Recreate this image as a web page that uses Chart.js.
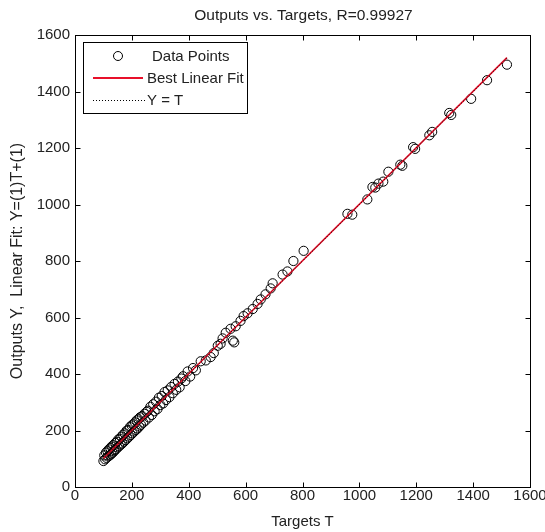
<!DOCTYPE html>
<html><head><meta charset="utf-8">
<script src="https://cdn.jsdelivr.net/npm/chart.js@4.4.0/dist/chart.umd.min.js"></script>
<style>html,body{margin:0;padding:0;background:#fff}#wrap{width:545px;height:532px}</style>
</head><body><div id="wrap"><canvas id="c" width="545" height="532"></canvas></div>
<script>
const titleText = 'Outputs vs. Targets, R=0.99927';
const xTitle = 'Targets T';
const yTitle = 'Outputs Y,  Linear Fit: Y=(1)T+(1)';
const seriesLabels = ['Data Points', 'Best Linear Fit', 'Y = T'];
const tickVals = [0, 200, 400, 600, 800, 1000, 1200, 1400, 1600];

const targets = [100,103,106,109,111,114,117,119,122,124,127,129,132,134,137,139,142,144,147,150,
152,155,158,161,163,166,169,172,175,178,181,184,187,190,193,196,199,202,205,208,
211,214,217,220,223,226,229,232,236,240,244,248,252,256,260,265,270,275,280,285,
290,295,300,305,310,315,320,326,332,338,344,350,356,362,368,374,380,388,396,405,
415,425,442,460,477,488,502,512,519,530,547,555,560,565,582,593,607,625,642,653,670,
688,695,730,747,768,804,958,975,1028,1046,1056,1067,1084,1102,1144,1151,1189,1196,
1246,1256,1316,1323,1393,1449,1519];
const outputs = [92,112,98,122,103,127,108,133,112,138,116,143,121,148,126,131,156,133,160,140,
168,144,171,150,178,154,185,160,190,166,199,172,202,178,212,184,218,190,222,196,
229,202,236,207,240,214,247,220,251,228,259,235,266,270,246,284,255,293,268,302,
276,316,290,322,296,336,308,342,318,354,332,365,344,373,353,384,392,375,409,391,
421,413,445,448,460,474,500,507,526,546,560,518,512,569,588,605,615,630,648,664,682,
703,721,752,763,800,836,967,964,1018,1062,1060,1074,1081,1116,1141,1137,1203,1197,
1245,1257,1324,1317,1374,1440,1495];

const fitX = [100, 1519];
const fitY = [101, 1520];
const idX = [100, 1519];
const idY = [100, 1519];

const FONT = 'Liberation Sans, Arial, sans-serif';
const FS = 15;
const TXT = '#222';

const scatterData = targets.map((t, i) => ({x: t, y: outputs[i]}));
const fitData = fitX.map((t, i) => ({x: t, y: fitY[i]}));
const idData = idX.map((t, i) => ({x: t, y: idY[i]}));

const RED = '#e8102a';

const framePlugin = {
  id: 'frame',
  afterDatasetsDraw(chart) {
    const {ctx, chartArea: a, scales: {x, y}} = chart;
    ctx.save();
    ctx.strokeStyle = '#000';
    ctx.lineWidth = 1;
    const L = Math.round(a.left) + 0.5, R = Math.round(a.right) + 0.5;
    const T = Math.round(a.top) + 0.5, B = Math.round(a.bottom) + 0.5;
    ctx.strokeRect(L, T, R - L, B - T);
    ctx.beginPath();
    tickVals.forEach(v => {
      const px = Math.round(x.getPixelForValue(v)) + 0.5;
      ctx.moveTo(px, B); ctx.lineTo(px, B - 5);
      ctx.moveTo(px, T); ctx.lineTo(px, T + 5);
      const py = Math.round(y.getPixelForValue(v)) + 0.5;
      ctx.moveTo(L, py); ctx.lineTo(L + 5, py);
      ctx.moveTo(R, py); ctx.lineTo(R - 5, py);
    });
    ctx.stroke();
    ctx.restore();
  },
  afterDraw(chart) {
    const {ctx, chartArea: a} = chart;
    ctx.save();
    ctx.fillStyle = TXT;
    ctx.font = '15.5px ' + FONT;
    ctx.textAlign = 'center';
    ctx.textBaseline = 'middle';
    ctx.fillText(titleText, (a.left + a.right) / 2 + 1, 16);
    ctx.font = FS + 'px ' + FONT;
    const lx = 83.5, ly = 42.5, lw = 164, lh = 71;
    ctx.fillStyle = '#fff';
    ctx.fillRect(lx, ly, lw, lh);
    ctx.strokeStyle = '#000';
    ctx.lineWidth = 1;
    ctx.strokeRect(lx, ly, lw, lh);
    ctx.fillStyle = TXT;
    ctx.textAlign = 'left';
    ctx.beginPath();
    ctx.arc(118, 56, 4.5, 0, Math.PI * 2);
    ctx.stroke();
    ctx.fillText(seriesLabels[0], 152, 57);
    ctx.beginPath();
    ctx.strokeStyle = RED;
    ctx.lineWidth = 2;
    ctx.moveTo(93, 78); ctx.lineTo(143, 78);
    ctx.stroke();
    ctx.fillText(seriesLabels[1], 147, 79);
    ctx.beginPath();
    ctx.strokeStyle = '#000';
    ctx.lineWidth = 1;
    ctx.setLineDash([1, 2]);
    ctx.moveTo(93, 100.5); ctx.lineTo(145, 100.5);
    ctx.stroke();
    ctx.setLineDash([]);
    ctx.fillText(seriesLabels[2], 147, 101);
    ctx.restore();
  }
};

const plainTick = v => String(v);

new Chart(document.getElementById('c'), {
  type: 'scatter',
  data: {
    datasets: [
      {
        label: seriesLabels[0], data: scatterData, order: 3,
        pointStyle: 'circle', pointRadius: 4.6, pointHoverRadius: 4.6,
        borderColor: '#000', borderWidth: 1, backgroundColor: 'rgba(0,0,0,0)', showLine: false
      },
      {
        label: seriesLabels[1], data: fitData, order: 2, showLine: true,
        borderColor: RED, borderWidth: 1.6, pointRadius: 0, fill: false
      },
      {
        label: seriesLabels[2], data: idData, order: 1, showLine: true,
        borderColor: '#000', borderWidth: 1, borderDash: [1, 2], pointRadius: 0, fill: false
      }
    ]
  },
  options: {
    responsive: false,
    animation: false,
    devicePixelRatio: 1,
    layout: {padding: {top: 35, right: 15, left: 0, bottom: 0}},
    plugins: {legend: {display: false}, title: {display: false}, tooltip: {enabled: false}},
    scales: {
      x: {
        type: 'linear', min: 0, max: 1600,
        afterBuildTicks: s => { s.ticks = tickVals.map(v => ({value: v})); },
        grid: {display: false, drawTicks: false},
        border: {display: false},
        ticks: {color: TXT, font: {family: FONT, size: FS}, padding: 0, maxRotation: 0, autoSkip: false, callback: plainTick},
        title: {display: true, text: xTitle, color: TXT, font: {family: FONT, size: FS}, padding: {top: 0, bottom: 1}},
        afterFit: s => { s.height = 45; s.paddingLeft = 0; s.paddingRight = 0; }
      },
      y: {
        type: 'linear', min: 0, max: 1600,
        afterBuildTicks: s => { s.ticks = tickVals.map(v => ({value: v})); },
        grid: {display: false, drawTicks: false},
        border: {display: false},
        ticks: {color: TXT, font: {family: FONT, size: FS}, padding: 5, autoSkip: false, callback: plainTick},
        title: {display: true, text: yTitle, color: TXT, font: {family: FONT, size: 16}, padding: {top: 8, bottom: 0}},
        afterFit: s => { s.width = 75; s.paddingTop = 0; s.paddingBottom = 0; }
      }
    }
  },
  plugins: [framePlugin]
});
</script>
</body></html>
